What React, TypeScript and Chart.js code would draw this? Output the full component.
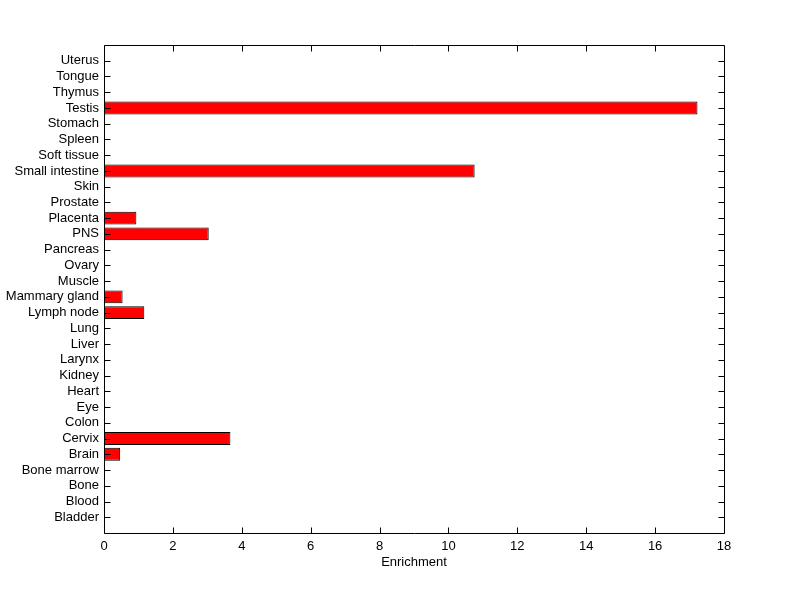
import React, { useEffect, useRef } from 'react';
import { Chart, registerables } from 'chart.js';

Chart.register(...registerables);

const categories = [
  'Bladder', 'Blood', 'Bone', 'Bone marrow', 'Brain', 'Cervix', 'Colon', 'Eye', 'Heart', 'Kidney',
  'Larynx', 'Liver', 'Lung', 'Lymph node', 'Mammary gland', 'Muscle', 'Ovary', 'Pancreas', 'PNS',
  'Placenta', 'Prostate', 'Skin', 'Small intestine', 'Soft tissue', 'Spleen', 'Stomach', 'Testis',
  'Thymus', 'Tongue', 'Uterus',
];
const enrichment = [
  0, 0, 0, 0, 0.47, 3.67, 0, 0, 0, 0,
  0, 0, 0, 1.17, 0.54, 0, 0, 0, 3.04,
  0.94, 0, 0, 10.76, 0, 0, 0, 17.23,
  0, 0, 0,
];
const xTicks = [0, 2, 4, 6, 8, 10, 12, 14, 16, 18];
const xTitle = 'Enrichment';

const FONT = "'Liberation Sans', Arial, Helvetica, sans-serif";

const framePlugin = {
  id: 'matlabFrame',
  afterDraw(chart: any) {
    const { ctx, chartArea } = chart;
    const { left, right, top, bottom } = chartArea;
    const xs = chart.scales.x;
    const ys = chart.scales.y;
    const tl = 6;
    ctx.save();
    ctx.strokeStyle = '#000';
    ctx.lineWidth = 1;
    ctx.beginPath();
    const L = Math.round(left) + 0.5;
    const R = Math.round(right) + 0.5;
    const T = Math.round(top) + 0.5;
    const B = Math.round(bottom) + 0.5;
    ctx.moveTo(L, T);
    ctx.lineTo(R, T);
    ctx.lineTo(R, B);
    ctx.lineTo(L, B);
    ctx.closePath();
    xTicks.forEach((v) => {
      const px = Math.round(xs.getPixelForValue(v)) + 0.5;
      ctx.moveTo(px, B);
      ctx.lineTo(px, B - tl);
      ctx.moveTo(px, T);
      ctx.lineTo(px, T + tl);
    });
    categories.forEach((_, i) => {
      const py = Math.round(ys.getPixelForValue(i + 1)) + 0.5;
      ctx.moveTo(L, py);
      ctx.lineTo(L + tl, py);
      ctx.moveTo(R, py);
      ctx.lineTo(R - tl, py);
    });
    ctx.stroke();
    ctx.restore();
  },
};

export default function App() {
  const ref = useRef<HTMLCanvasElement | null>(null);

  useEffect(() => {
    document.body.style.margin = '0';
    const canvas = ref.current;
    if (!canvas) return;
    const chart = new Chart(canvas, {
      type: 'bar',
      data: {
        datasets: [
          {
            label: xTitle,
            data: enrichment.map((v, i) => ({ x: v, y: i + 1 })),
            backgroundColor: '#ff0000',
            borderColor: '#000000',
            borderWidth: 1,
            borderSkipped: false,
            inflateAmount: 0,
            barPercentage: 0.82,
            categoryPercentage: 1,
          },
        ],
      },
      options: {
        indexAxis: 'y',
        animation: false,
        responsive: false,
        devicePixelRatio: 1,
        layout: { padding: { top: 45, right: 76, left: 0, bottom: 0 } },
        plugins: {
          legend: { display: false },
          tooltip: { enabled: false },
        },
        scales: {
          x: {
            type: 'linear',
            position: 'bottom',
            min: 0,
            max: 18,
            offset: false,
            afterBuildTicks: (s: any) => {
              s.ticks = xTicks.map((v) => ({ value: v }));
            },
            ticks: {
              color: '#000',
              font: { family: FONT, size: 13 },
              padding: 6,
              maxRotation: 0,
            },
            grid: { display: false, drawTicks: false },
            border: { display: false },
            title: {
              display: true,
              text: xTitle,
              color: '#000',
              font: { family: FONT, size: 13 },
              padding: { top: 0, bottom: 29 },
            },
            afterFit: (s: any) => {
              s.height = 66;
            },
          },
          y: {
            type: 'linear',
            min: 0,
            max: 31,
            offset: false,
            afterBuildTicks: (s: any) => {
              s.ticks = categories.map((_, i) => ({ value: i + 1 }));
            },
            ticks: {
              color: '#000',
              font: { family: FONT, size: 13 },
              padding: 5,
              autoSkip: false,
              callback: (v: any) => categories[Number(v) - 1] ?? '',
            },
            grid: { display: false, drawTicks: false },
            border: { display: false },
            afterFit: (s: any) => {
              s.width = 104;
            },
          },
        },
      } as any,
      plugins: [framePlugin],
    });
    return () => chart.destroy();
  }, []);

  return (
    <div style={{ position: 'absolute', left: 0, top: 0, width: 800, height: 599, background: '#fff' }}>
      <canvas ref={ref} width={800} height={599} style={{ width: 800, height: 599, display: 'block' }} />
    </div>
  );
}
